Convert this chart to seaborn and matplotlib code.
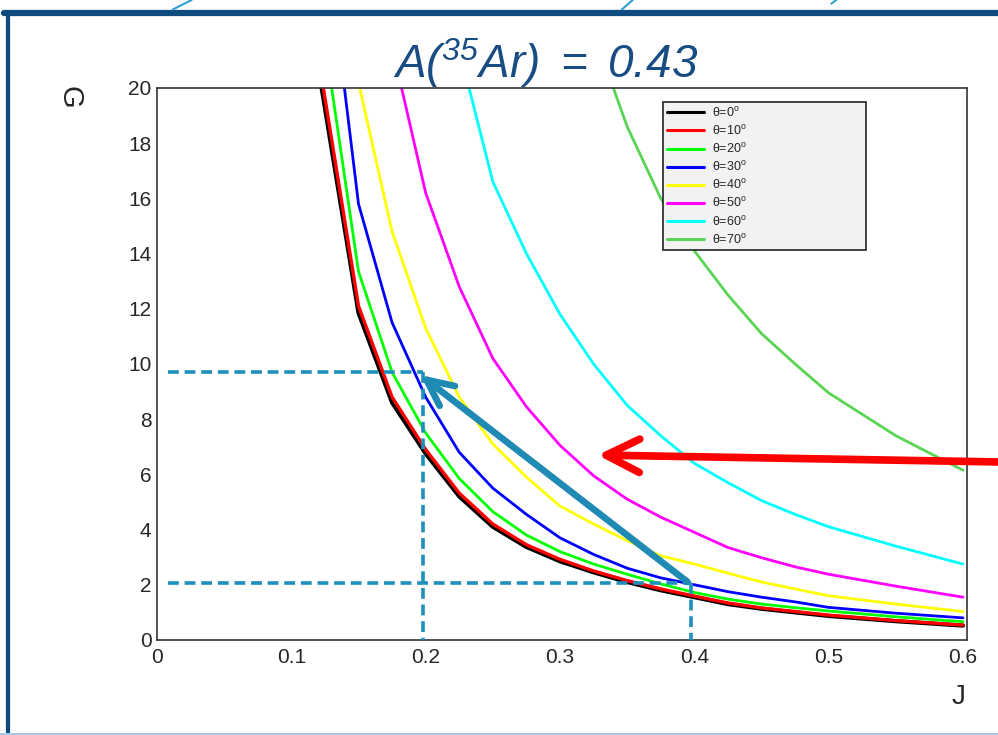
import pandas as pd
import matplotlib
matplotlib.use("Agg")
import matplotlib.pyplot as plt
import seaborn as sns
from matplotlib.lines import Line2D
from matplotlib.ticker import MultipleLocator

# Valori: G(J) pentru fiecare unghi theta
J = [0.1, 0.15, 0.175, 0.2, 0.225, 0.25, 0.275, 0.3, 0.325, 0.35, 0.375, 0.4,
     0.425, 0.45, 0.475, 0.5, 0.55, 0.6]

G_0 = [26.7, 11.85, 8.6, 6.75, 5.2, 4.1, 3.37, 2.85, 2.45, 2.1, 1.8, 1.55,
       1.3, 1.13, 1.0, 0.87, 0.68, 0.52]
G_10 = [27.2, 12.1, 8.8, 6.9, 5.32, 4.2, 3.45, 2.92, 2.5, 2.15, 1.85, 1.59,
        1.34, 1.16, 1.03, 0.9, 0.7, 0.54]
G_20 = [30.0, 13.35, 9.7, 7.5, 5.85, 4.65, 3.8, 3.2, 2.75, 2.38, 2.03, 1.72,
        1.48, 1.3, 1.17, 1.05, 0.84, 0.66]
G_30 = [35.8, 15.8, 11.5, 8.8, 6.8, 5.5, 4.55, 3.7, 3.1, 2.6, 2.25, 2.0,
        1.75, 1.55, 1.38, 1.18, 0.97, 0.8]
G_40 = [45.0, 20.2, 14.8, 11.3, 8.8, 7.1, 5.9, 4.85, 4.2, 3.6, 3.05, 2.75,
        2.42, 2.1, 1.85, 1.6, 1.3, 1.03]
G_50 = [70.0, 30.0, 21.5, 16.2, 12.8, 10.2, 8.45, 7.05, 5.95, 5.1, 4.45, 3.9,
        3.35, 2.98, 2.65, 2.38, 1.95, 1.55]
G_60 = [120.0, 50.0, 37.0, 28.5, 21.4, 16.6, 14.0, 11.8, 10.0, 8.5, 7.4, 6.4,
        5.7, 5.05, 4.55, 4.1, 3.4, 2.75]
G_70 = [250.0, 100.0, 75.0, 57.0, 45.0, 37.0, 30.5, 26.0, 22.0, 18.6, 16.0, 14.1,
        12.5, 11.1, 10.0, 8.95, 7.4, 6.15]

thetas = [0, 10, 20, 30, 40, 50, 60, 70]
serii = [G_0, G_10, G_20, G_30, G_40, G_50, G_60, G_70]
culori = ["#000000", "#ff0000", "#00ff00", "#0000ff", "#ffff00", "#ff00ff",
          "#00ffff", "#59d454"]
grosimi = [3.0, 2.4, 2.0, 2.0, 2.0, 2.0, 2.0, 2.0]

x_ticks = [0, 0.1, 0.2, 0.3, 0.4, 0.5, 0.6]
x_tick_labels = ["0", "0.1", "0.2", "0.3", "0.4", "0.5", "0.6"]
y_ticks = [0, 2, 4, 6, 8, 10, 12, 14, 16, 18, 20]

# punctele marcate cu linii punctate si sageata
J_jos, G_jos = 0.3975, 2.07
J_sus, G_sus = 0.198, 9.7

rows = []
for t, g in zip(thetas, serii):
    for j, v in zip(J, g):
        rows.append({"J": j, "G": v, "theta": t})
df = pd.DataFrame(rows)

sns.set_theme(style="white")
plt.rcParams["font.family"] = ["Liberation Sans", "DejaVu Sans"]
plt.rcParams["mathtext.fontset"] = "custom"
plt.rcParams["mathtext.rm"] = "Liberation Sans:italic"
plt.rcParams["mathtext.it"] = "Liberation Sans:italic"
plt.rcParams["mathtext.sf"] = "Liberation Sans"

fig = plt.figure(figsize=(9.98, 7.35), dpi=100)
ax = fig.add_axes([0.1573, 0.1293, 0.8117, 0.751])

for t, c, lw in zip(thetas, culori, grosimi):
    sns.lineplot(data=df[df["theta"] == t], x="J", y="G", color=c, lw=lw,
                 ax=ax, legend=False, sort=False, estimator=None)

ax.set_xlim(0, 0.603)
ax.set_ylim(0, 20)
ax.set_xticks(x_ticks, labels=x_tick_labels)
ax.set_yticks(y_ticks, labels=[str(v) for v in y_ticks])
ax.xaxis.set_minor_locator(MultipleLocator(0.02))
ax.yaxis.set_minor_locator(MultipleLocator(0.5))
ax.tick_params(axis="both", which="both", direction="in", top=False, right=False,
               color="#333333", labelsize=15, width=1.1)
ax.tick_params(axis="x", which="major", length=12, pad=6)
ax.tick_params(axis="x", which="minor", length=6)
ax.tick_params(axis="y", which="major", length=16, pad=4)
ax.tick_params(axis="y", which="minor", length=8)
ax.set_xlabel("")
ax.set_ylabel("")
for s in ax.spines.values():
    s.set_color("#333333")
    s.set_linewidth(1.2)

# linii punctate
cul_punct = "#1f8fbc"
stil = dict(color=cul_punct, lw=2.6, linestyle=(0, (3, 1.6)), clip_on=False, zorder=5)
ax.plot([0.008, J_sus], [G_sus, G_sus], **stil)
ax.plot([J_sus, J_sus], [G_sus, 0], **stil)
ax.plot([0.008, J_jos], [G_jos, G_jos], **stil)
ax.plot([J_jos, J_jos], [G_jos, 0], **stil)

# sageti
ax.annotate("", xy=(0.196, 9.6), xytext=(0.395, 2.1),
            arrowprops=dict(arrowstyle="->,head_length=0.95,head_width=0.45",
                            lw=4.8, color="#1f8bb4", shrinkA=0, shrinkB=0,
                            mutation_scale=20), zorder=6)
ax.annotate("", xy=(0.328, 6.7), xytext=(0.626, 6.45),
            arrowprops=dict(arrowstyle="->,head_length=1.2,head_width=0.6",
                            lw=5.5, color="#ff0000", shrinkA=0, shrinkB=0,
                            mutation_scale=20),
            annotation_clip=False, zorder=6)

# legenda
handles = [Line2D([0], [0], color=c, lw=2.2) for c in culori]
labels = ["θ=%d$^{\\mathsf{o}}$" % t for t in thetas]
leg = ax.legend(handles, labels, loc="upper left",
                bbox_to_anchor=(0.6247, 0.9746, 0.2506, 0.0), mode="expand",
                borderaxespad=0.0, fontsize=9, labelspacing=0.33,
                handlelength=3.0, handletextpad=0.6,
                borderpad=0.3, fancybox=False, framealpha=1,
                facecolor="#f2f2f2", edgecolor="#222222")
leg.get_frame().set_linewidth(1.2)

# titlu si etichete axe
fig.text(0.394, 0.894, r"$A(^{35}Ar)\ =\ 0.43$", ha="left",
         va="baseline", fontsize=33, color="#184c82")
fig.text(0.070, 0.867, "G", rotation=270, ha="center", va="center", fontsize=21)
fig.text(0.96, 0.052, "J", ha="center", va="center", fontsize=20)

# chenarul albastru al slide-ului
albastru = "#0e4a7e"
fig.add_artist(Line2D([0.004, 1.0], [0.982, 0.982], color=albastru, lw=4.5,
                      transform=fig.transFigure))
fig.add_artist(Line2D([0.008, 0.008], [0.0, 0.984], color=albastru, lw=3.0,
                      transform=fig.transFigure))
fig.add_artist(Line2D([0.0, 1.0], [0.001, 0.001], color="#a9c6e8", lw=1.5,
                      transform=fig.transFigure))
for xs, ys in [([0.173, 0.192], [0.987, 1.0]), ([0.623, 0.634], [0.987, 1.0]),
               ([0.833, 0.838], [0.995, 1.0])]:
    fig.add_artist(Line2D(xs, ys, color="#2f9fd0", lw=1.5, transform=fig.transFigure))

fig.savefig("out.png", dpi=100)
